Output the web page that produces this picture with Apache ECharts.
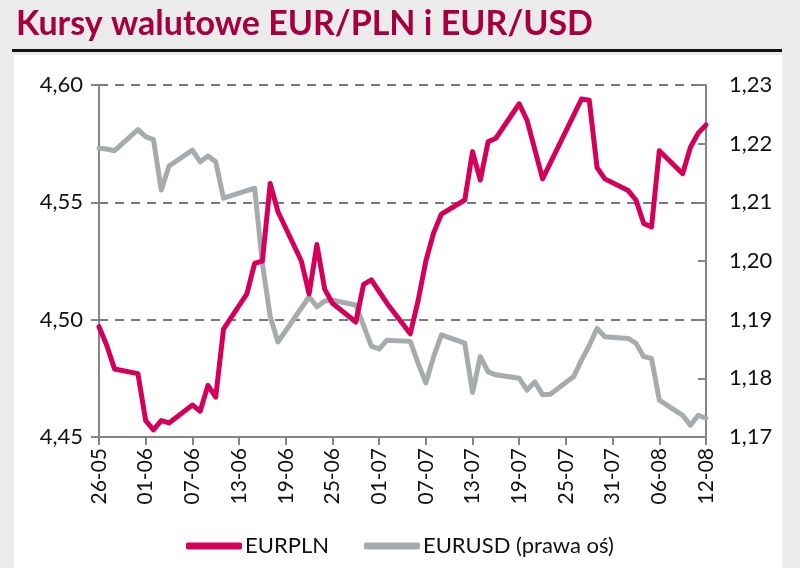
<!DOCTYPE html>
<html>
<head>
<meta charset="utf-8">
<script src="https://cdn.jsdelivr.net/npm/echarts@6/dist/echarts.min.js"></script>
<style>
  html, body { margin: 0; padding: 0; background: #ebebec; }
  #container { width: 800px; height: 568px; }
</style>
</head>
<body>
<div id="container"></div>
<script>
// dni kalendarzowe 26-05 .. 12-08 (2021), weekendy = null
var startDay = new Date(2021, 4, 26);
var dayCount = 79;
var categories = [];
for (var i = 0; i < dayCount; i++) {
    var d = new Date(startDay.getTime() + i * 86400000);
    var dd = ('0' + d.getDate()).slice(-2);
    var mm = ('0' + (d.getMonth() + 1)).slice(-2);
    categories.push(dd + '-' + mm);
}

var eurpln = [
    4.497, 4.489, 4.479, null, null, 4.477, 4.457, 4.453, 4.457, 4.456,
    null, null, 4.4636, 4.461, 4.472, 4.467, 4.496, null, null, 4.511,
    4.524, 4.525, 4.558, 4.546, null, null, 4.525, 4.511, 4.532, 4.513,
    4.507, null, null, 4.499, 4.515, 4.517, 4.512, 4.507, null, null,
    4.494, 4.508, 4.525, 4.537, 4.545, null, null, 4.551, 4.5716, 4.5595,
    4.5758, 4.5773, null, null, 4.592, 4.585, null, 4.560, null, null,
    null, null, 4.594, 4.5935, 4.5648, 4.560, null, null, 4.555, 4.551,
    4.541, 4.5395, 4.572, null, null, 4.5622, 4.5735, 4.5795, 4.583
];

var eurusd = [
    1.2192, 1.2191, 1.2188, null, null, 1.2224, 1.2212, 1.2207, 1.2121, 1.2162,
    null, null, 1.2189, 1.2169, 1.2179, 1.2169, 1.2107, null, null, 1.2120,
    1.2124, 1.1995, 1.1905, 1.1862, null, null, null, 1.1939, 1.1922, 1.1932,
    1.1933, null, null, 1.1925, null, 1.1855, 1.1850, 1.1865, null, null,
    1.1863, 1.1826, 1.1792, 1.1837, 1.1874, null, null, 1.1860, 1.1776, 1.1837,
    1.1811, 1.1806, null, null, 1.1800, 1.1780, 1.1794, 1.1772, 1.1773, null,
    null, 1.1803, 1.1831, 1.1856, 1.1885, 1.1871, null, null, 1.1868, 1.1860,
    1.1837, 1.1834, 1.1763, null, null, 1.1737, 1.1720, 1.1737, 1.1732
];

var fontName = 'Lato';

function plNum(v) {
    return v.toFixed(2).replace('.', ',');
}

var myChart = echarts.init(document.getElementById('container'));

var option = {
    backgroundColor: '#ebebec',
    animation: false,
    title: {
        text: 'Kursy walutowe EUR/PLN i EUR/USD',
        left: 11,
        top: 2,
        textStyle: {
            color: '#a5003f',
            fontFamily: fontName,
            fontWeight: 'bold',
            fontSize: 34
        }
    },
    graphic: [
        { type: 'rect', z: -10, shape: { x: 14, y: 55, width: 768, height: 513 }, style: { fill: '#ffffff' } },
        { type: 'rect', z: -10, shape: { x: 12, y: 49, width: 770, height: 3 }, style: { fill: '#111111' } }
    ],
    legend: {
        bottom: 6,
        left: 'center',
        itemGap: 35,
        itemWidth: 56,
        itemHeight: 7,
        icon: 'roundRect',
        textStyle: { fontFamily: fontName, fontSize: 22, color: '#111', padding: [0, 0, 0, -2] },
        data: ['EURPLN', 'EURUSD (prawa oś)']
    },
    grid: {
        left: 99,
        right: 94,
        top: 85,
        bottom: 131
    },
    xAxis: {
        type: 'category',
        data: categories,
        boundaryGap: false,
        axisLine: { lineStyle: { color: '#858585', width: 2 } },
        axisTick: { interval: 5, length: 8, lineStyle: { color: '#858585', width: 2 } },
        axisLabel: {
            interval: 5,
            rotate: 90,
            margin: 11,
            color: '#111',
            fontFamily: fontName,
            fontSize: 21
        },
        splitLine: { show: false }
    },
    yAxis: [
        {
            type: 'value',
            min: 4.45,
            max: 4.60,
            interval: 0.05,
            axisLine: { show: true, lineStyle: { color: '#858585', width: 2 } },
            axisTick: { show: true, length: 8, lineStyle: { color: '#858585', width: 2 } },
            axisLabel: {
                margin: 16,
                color: '#111',
                fontFamily: fontName,
                fontSize: 22,
                formatter: plNum
            },
            splitLine: {
                show: true,
                lineStyle: { color: '#7a7a7a', width: 2, type: [9, 7] }
            }
        },
        {
            type: 'value',
            min: 1.17,
            max: 1.23,
            interval: 0.01,
            position: 'right',
            axisLine: { show: true, lineStyle: { color: '#858585', width: 2 } },
            axisTick: { show: true, inside: true, length: 8, lineStyle: { color: '#858585', width: 2 } },
            axisLabel: {
                margin: 23,
                color: '#111',
                fontFamily: fontName,
                fontSize: 22,
                formatter: plNum
            },
            splitLine: { show: false }
        }
    ],
    series: [
        {
            name: 'EURUSD (prawa oś)',
            type: 'line',
            yAxisIndex: 1,
            data: eurusd,
            connectNulls: true,
            showSymbol: false,
            z: 2,
            itemStyle: { color: '#a6abae' },
            lineStyle: { color: '#a6abae', width: 5, cap: 'round', join: 'round' }
        },
        {
            name: 'EURPLN',
            type: 'line',
            yAxisIndex: 0,
            data: eurpln,
            connectNulls: true,
            showSymbol: false,
            z: 3,
            itemStyle: { color: '#d4005a' },
            lineStyle: { color: '#d4005a', width: 5, cap: 'round', join: 'round' }
        }
    ]
};

myChart.setOption(option);
</script>
</body>
</html>
